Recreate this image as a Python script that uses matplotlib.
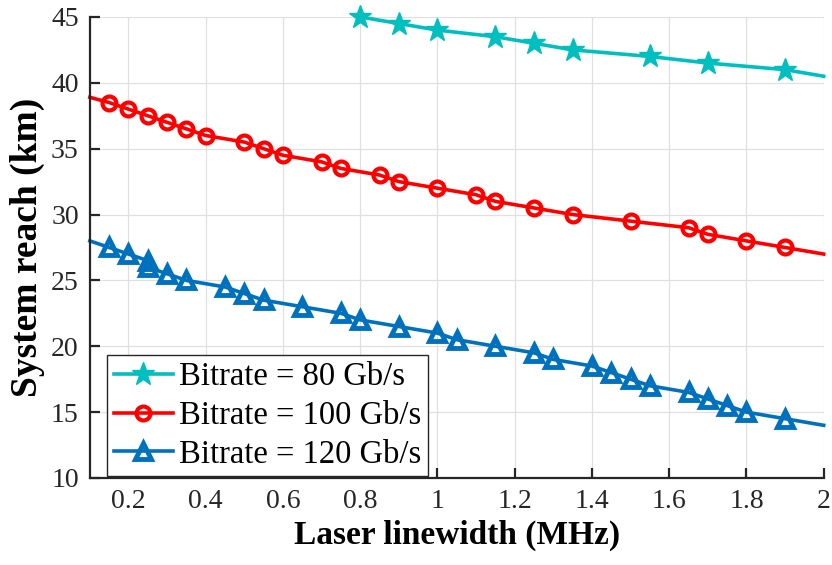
import numpy as np
import matplotlib
matplotlib.use('Agg')
import matplotlib.pyplot as plt

plt.rcParams['font.family'] = ['Liberation Serif', 'DejaVu Serif']

# laser linewidth (MHz) vs system reach (km); first/last points only carry the line
x_80 = [0.8, 0.9, 1.0, 1.15, 1.25, 1.35, 1.55, 1.7, 1.9, 2.0]
y_80 = [45, 44.5, 44, 43.5, 43, 42.5, 42, 41.5, 41, 40.5]

x_100 = [0.1, 0.15, 0.2, 0.25, 0.3, 0.35, 0.4, 0.5, 0.55, 0.6, 0.7, 0.75, 0.85,
         0.9, 1.0, 1.1, 1.15, 1.25, 1.35, 1.5, 1.65, 1.7, 1.8, 1.9, 2.0]
y_100 = [38.9, 38.5, 38, 37.5, 37, 36.5, 36, 35.5, 35, 34.5, 34, 33.5, 33,
         32.5, 32, 31.5, 31, 30.5, 30, 29.5, 29, 28.5, 28, 27.5, 27]

x_120 = [0.1, 0.15, 0.2, 0.25, 0.25, 0.3, 0.35, 0.45, 0.5, 0.55, 0.65, 0.75, 0.8,
         0.9, 1.0, 1.05, 1.15, 1.25, 1.3, 1.4, 1.45, 1.5, 1.55, 1.65, 1.7, 1.75,
         1.8, 1.9, 2.0]
y_120 = [28, 27.5, 27, 26.5, 26, 25.5, 25, 24.5, 24, 23.5, 23, 22.5, 22,
         21.5, 21, 20.5, 20, 19.5, 19, 18.5, 18, 17.5, 17, 16.5, 16, 15.5,
         15, 14.5, 14]

labels = ['Bitrate = 80 Gb/s', 'Bitrate = 100 Gb/s', 'Bitrate = 120 Gb/s']
x_ticks = [0.2, 0.4, 0.6, 0.8, 1.0, 1.2, 1.4, 1.6, 1.8, 2.0]
y_ticks = [10, 15, 20, 25, 30, 35, 40, 45]

fig = plt.figure(figsize=(8.32, 5.65), dpi=100)
ax = fig.add_axes([0.108, 0.154, 0.882, 0.816])

lw = 2.6
ax.plot(x_80, y_80, color='#00BFBF', lw=lw, marker='*', ms=17,
        markevery=list(range(len(x_80) - 1)), clip_on=False, label=labels[0])
ax.plot(x_100, y_100, color='#FF0000', lw=lw, marker='o', ms=10, mew=3,
        mfc='none', markevery=list(range(1, len(x_100) - 1)), clip_on=False,
        label=labels[1])
ax.plot(x_120, y_120, color='#0072BD', lw=lw, marker='^', ms=12, mew=3.5,
        mfc='none', markevery=list(range(1, len(x_120) - 1)), clip_on=False,
        label=labels[2])

ax.set_xlim(0.1, 2.0)
ax.set_ylim(10, 45)
ax.set_xticks(x_ticks)
ax.set_xticklabels(['%g' % v for v in x_ticks])
ax.set_yticks(y_ticks)

ax.grid(True, color='#e0e0e0', lw=0.9)
ax.set_axisbelow(True)
for s in ['top', 'right']:
    ax.spines[s].set_visible(False)
for s in ['left', 'bottom']:
    ax.spines[s].set_linewidth(1.6)
    ax.spines[s].set_color('#262626')
ax.tick_params(direction='in', length=7, width=1.6, color='#262626',
               labelsize=20, labelcolor='#262626', pad=8)

ax.set_xlabel('Laser linewidth (MHz)', fontsize=24, fontweight='bold', labelpad=4)
ax.set_ylabel('System reach (km)', fontsize=27, fontweight='bold', labelpad=4)

leg = ax.legend(loc='lower left', bbox_to_anchor=(0.024, 0.004), borderaxespad=0,
                fontsize=23.5, fancybox=False, framealpha=1, edgecolor='#262626',
                handlelength=1.8, handletextpad=0.2, labelspacing=0.25,
                borderpad=0.2)
leg.get_frame().set_linewidth(1.0)

fig.savefig('out.png', dpi=100)
